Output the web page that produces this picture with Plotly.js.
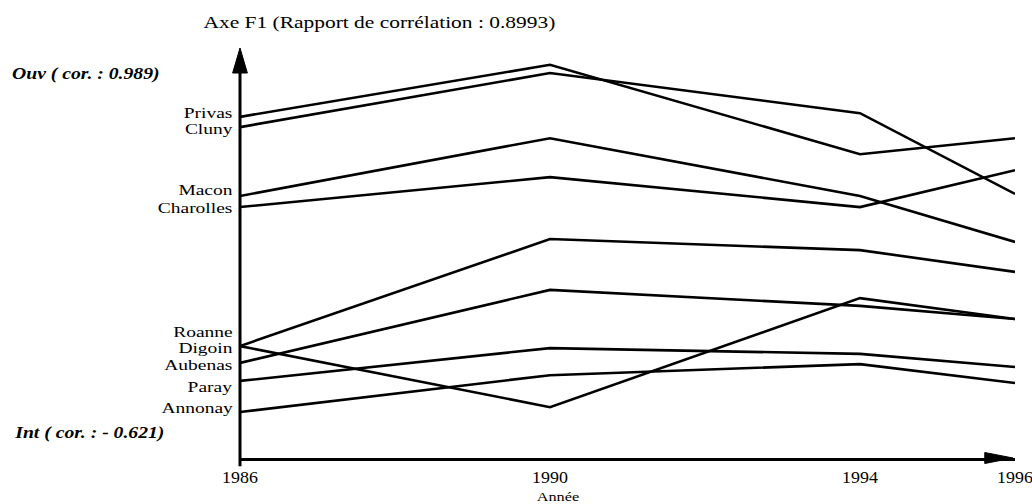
<!DOCTYPE html>
<html>
<head>
<meta charset="utf-8">
<script src="https://cdn.plot.ly/plotly-3.0.1.min.js"></script>
<style>
html,body{margin:0;padding:0;background:#fff;}
#chart{width:1032px;height:504px;}
</style>
</head>
<body>
<div id="chart"></div>
<script>
// ---- data (arbitrary F1 score units 0-100) ----
const years = [1986, 1990, 1994, 1996];
const cities = ["Privas", "Cluny", "Macon", "Charolles", "Roanne", "Digoin", "Aubenas", "Paray", "Annonay"];
const privas    = [83.2, 95.9, 74.1, 78.0];
const cluny     = [80.7, 93.9, 84.1, 64.4];
const macon     = [63.9, 78.0, 63.9, 52.7];
const charolles = [61.2, 68.5, 61.2, 70.2];
const roanne    = [27.3, 53.4, 50.7, 45.4];
const digoin    = [27.3, 12.4, 39.0, 33.9];
const aubenas   = [23.2, 41.0, 37.1, 33.9];
const paray     = [18.8, 26.8, 25.4, 22.2];
const annonay   = [11.2, 20.2, 22.9, 18.3];
const tickLabels = ["1986", "1990", "1994", "1996"];

const series = [privas, cluny, macon, charolles, roanne, digoin, aubenas, paray, annonay];
// label vertical nudges (pixels) so names sit as in the original
const labelShift = [4, -2, 6, -1, 14, -2, -2, -6, 4];

const FONT = "Liberation Serif, Times New Roman, serif";

const traces = series.map((vals, i) => ({
  type: "scatter",
  mode: "lines",
  x: years,
  y: vals,
  name: cities[i],
  line: {color: "#000", width: 2.6},
  hoverinfo: "x+y+name",
  showlegend: false
}));

// horizontal stretch per annotation: [factor, fixed edge]
const stretch = [];

const annotations = cities.map((c, i) => {
  stretch.push([1.3, "right"]);
  return {
    text: c,
    x: years[0], xref: "x",
    y: series[i][0], yref: "y",
    xanchor: "right", yanchor: "middle",
    xshift: -6, yshift: labelShift[i],
    borderpad: 0,
    showarrow: false,
    font: {family: FONT, size: 15, color: "#000"}
  };
});

annotations.push(
  {text: "Axe F1 (Rapport de corrélation : 0.8993)", xref: "paper", yref: "paper",
   x: 0.1806, y: 1.063, xanchor: "center", yanchor: "middle", showarrow: false,
   font: {family: FONT, size: 16.5, color: "#000"}},
  {text: "<b><i>Ouv ( cor. : 0.989)</i></b>", xref: "paper", yref: "paper",
   x: -0.2968, y: 0.9366, xanchor: "left", yanchor: "middle", showarrow: false,
   font: {family: FONT, size: 16, color: "#000"}},
  {text: "<b><i>Int ( cor. : - 0.621)</i></b>", xref: "paper", yref: "paper",
   x: -0.294, y: 0.061, xanchor: "left", yanchor: "middle", showarrow: false,
   font: {family: FONT, size: 16, color: "#000"}},
  {text: "Année", xref: "paper", yref: "paper",
   x: 0.41, y: -0.0935, xanchor: "center", yanchor: "middle", showarrow: false,
   borderpad: 0,
   font: {family: FONT, size: 13, color: "#000"}}
);
stretch.push([1.3, "center"], [1.23, "left"], [1.23, "left"], [1.25, "center"]);

const shapes = [
  // y axis line (extends a little below the x axis)
  {type: "line", xref: "paper", yref: "paper", x0: 0, x1: 0, y0: -0.02, y1: 0.95,
   line: {color: "#000", width: 3}},
  // y axis arrow head
  {type: "path", xref: "paper", yref: "paper",
   path: "M -0.0095,0.939 L 0,1 L 0.0095,0.939 Z",
   fillcolor: "#000", line: {color: "#000", width: 1}},
  // x axis arrow head
  {type: "path", xref: "paper", yref: "paper",
   path: "M 0.961,0.0134 L 0.9974,0 L 0.961,-0.0134 Z",
   fillcolor: "#000", line: {color: "#000", width: 1}}
];

const layout = {
  width: 1032, height: 504,
  margin: {l: 240, r: 17, t: 48, b: 46, pad: 0},
  paper_bgcolor: "#fff", plot_bgcolor: "#fff",
  showlegend: false,
  xaxis: {
    range: [1986, 1996], tickvals: years, ticktext: tickLabels,
    showgrid: false, zeroline: false,
    showline: true, linecolor: "#000", linewidth: 3,
    ticks: "outside", ticklen: 3, tickcolor: "rgba(0,0,0,0)",
    tickfont: {family: FONT, size: 16, color: "#000"}
  },
  yaxis: {
    range: [0, 100], showgrid: false, zeroline: false, showline: false,
    showticklabels: false, ticks: ""
  },
  annotations: annotations,
  shapes: shapes
};

function widen(textEl, factor, edge) {
  if (!textEl || factor === 1) return;
  const ns = "http://www.w3.org/2000/svg";
  const g = document.createElementNS(ns, "g");
  textEl.parentNode.insertBefore(g, textEl);
  g.appendChild(textEl);
  const bb = g.getBBox();
  let ax = bb.x + bb.width / 2;
  if (edge === "left") ax = bb.x;
  if (edge === "right") ax = bb.x + bb.width;
  g.setAttribute("transform", `translate(${ax},0) scale(${factor},1) translate(${-ax},0)`);
}

Plotly.newPlot("chart", traces, layout, {displayModeBar: false, staticPlot: true}).then(gd => {
  gd.querySelectorAll("g.annotation").forEach(a => {
    const idx = +a.getAttribute("data-index");
    const t = a.querySelector("text.annotation-text");
    if (stretch[idx]) widen(t, stretch[idx][0], stretch[idx][1]);
  });
  gd.querySelectorAll("g.xtick text").forEach(t => widen(t, 1.12, "center"));
});
</script>
</body>
</html>
